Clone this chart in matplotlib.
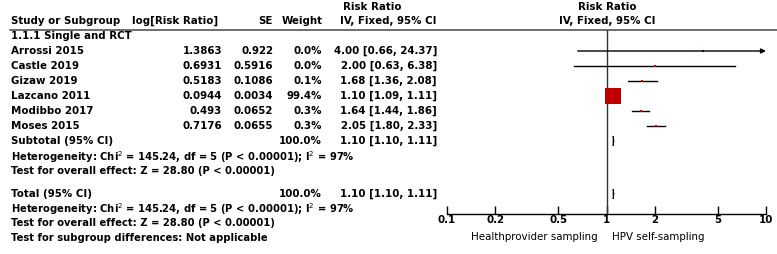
import numpy as np
import matplotlib.pyplot as plt

studies = ['Arrossi 2015', 'Castle 2019', 'Gizaw 2019', 'Lazcano 2011', 'Modibbo 2017', 'Moses 2015']
log_rr = ['1.3863', '0.6931', '0.5183', '0.0944', '0.493', '0.7176']
se = ['0.922', '0.5916', '0.1086', '0.0034', '0.0652', '0.0655']
weight = [0.0, 0.0, 0.1, 99.4, 0.3, 0.3]
rr = [4.00, 2.00, 1.68, 1.10, 1.64, 2.05]
lo = [0.66, 0.63, 1.36, 1.09, 1.44, 1.80]
hi = [24.37, 6.38, 2.08, 1.11, 1.86, 2.33]
pooled = (1.10, 1.10, 1.11)
ticks = [0.1, 0.2, 0.5, 1, 2, 5, 10]
tick_labels = ['0.1', '0.2', '0.5', '1', '2', '5', '10']

W, H = 777, 254
fig = plt.figure(figsize=(W / 100, H / 100), dpi=100)
plt.rcParams['font.family'] = ['DejaVu Sans']
fs = 7.4

# text layer in pixel coords
tx = fig.add_axes([0, 0, 1, 1])
tx.set_xlim(0, W)
tx.set_ylim(H, 0)
tx.axis('off')

def t(x, y, s, ha='left', bold=True, size=fs):
    tx.text(x, y, s, ha=ha, va='center', fontsize=size,
            fontweight='bold' if bold else 'normal', color='black')

# headers
t(372, 7, 'Risk Ratio', ha='center')
t(607, 7, 'Risk Ratio', ha='center')
t(11, 21, 'Study or Subgroup')
t(132, 21, 'log[Risk Ratio]')
t(273, 21, 'SE', ha='right')
t(323, 21, 'Weight', ha='right')
t(437, 21, 'IV, Fixed, 95% CI', ha='right')
t(607, 21, 'IV, Fixed, 95% CI', ha='center')
tx.plot([10, W], [29.5, 29.5], color='#555555', lw=1.2)

t(11, 36, '1.1.1 Single and RCT')
rows_y = [51, 66, 81, 96, 111, 126]
for i, y in enumerate(rows_y):
    t(11, y, studies[i])
    t(222, y, log_rr[i], ha='right')
    t(273, y, se[i], ha='right')
    t(322, y, f'{weight[i]:.1f}%', ha='right')
    t(437, y, f'{rr[i]:.2f} [{lo[i]:.2f}, {hi[i]:.2f}]', ha='right')

summary_y = [141, 194]
for y, lab in zip(summary_y, ['Subtotal (95% CI)', 'Total (95% CI)']):
    t(11, y, lab)
    t(322, y, '100.0%', ha='right')
    t(437, y, f'{pooled[0]:.2f} [{pooled[1]:.2f}, {pooled[2]:.2f}]', ha='right')

het = 'Heterogeneity: Chi$^2$ = 145.24, df = 5 (P < 0.00001); I$^2$ = 97%'
hs = 7.2
t(11, 157, het, size=hs)
t(11, 171, 'Test for overall effect: Z = 28.80 (P < 0.00001)', size=hs)
t(11, 209, het, size=hs)
t(11, 223, 'Test for overall effect: Z = 28.80 (P < 0.00001)', size=hs)
t(11, 238, 'Test for subgroup differences: Not applicable', size=hs)
t(598, 237, 'Healthprovider sampling', ha='right', bold=False)
t(612, 237, 'HPV self-sampling', bold=False)

# forest axes
x0, x1, ytop, ybot = 447, 766, 30, 214
ax = fig.add_axes([x0 / W, (H - ybot) / H, (x1 - x0) / W, (ybot - ytop) / H])
ax.set_xscale('log')
ax.set_xlim(0.1, 10)
ax.set_ylim(ybot, ytop)
ax.patch.set_alpha(0)
for s in ['top', 'left', 'right']:
    ax.spines[s].set_visible(False)
ax.spines['bottom'].set_linewidth(1.0)
ax.set_yticks([])
ax.set_xticks(ticks)
ax.set_xticklabels(tick_labels, fontweight='bold', fontsize=fs)
ax.minorticks_off()
ax.tick_params(axis='x', direction='in', length=6, width=1, pad=1)
ax.axvline(1, color='#333333', lw=1)

for i, y in enumerate(rows_y):
    if hi[i] > 10:
        ax.annotate('', xy=(10, y), xytext=(lo[i], y),
                    arrowprops=dict(arrowstyle='-|>', color='black', lw=1,
                                    mutation_scale=7, shrinkA=0, shrinkB=0))
    else:
        ax.plot([lo[i], hi[i]], [y, y], color='black', lw=1)
    ms = max(1.6, 11.8 * np.sqrt(weight[i] / 99.4))
    ax.plot(rr[i], y, 's', color='#C00000', ms=ms, mec='#C00000', mew=0)

for y in summary_y:
    est, l, h = pooled
    ax.fill([l, est, h * 1.003, est], [y, y - 5, y, y + 5], color='black', lw=0.6,
            edgecolor='black')

fig.savefig('out.png', dpi=100)
